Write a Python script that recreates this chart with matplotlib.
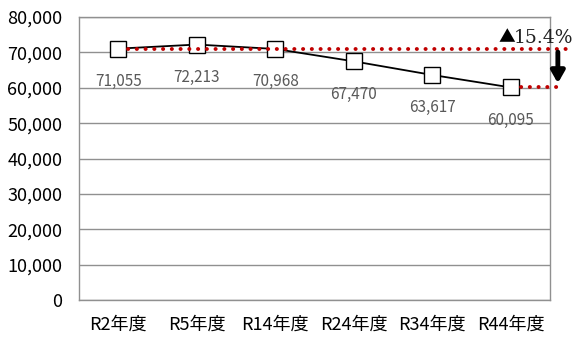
import matplotlib
matplotlib.use("Agg")
import matplotlib.pyplot as plt

plt.rcParams['font.family'] = ['Noto Sans CJK JP', 'DejaVu Sans']

# ------------------ data ------------------
years = ["R2年度", "R5年度", "R14年度", "R24年度", "R34年度", "R44年度"]
population = [71055, 72213, 70968, 67470, 63617, 60095]
change_mark = "▲"
change_value = "15.4%"

# ------------------ plot ------------------
fig = plt.figure(figsize=(5.74, 3.38), dpi=100)
ax = fig.add_axes([0.1376, 0.1124, 0.8206, 0.8373])

x = list(range(len(years)))
ax.plot(x, population, "-", color="black", lw=1.3, marker="s", ms=12,
        mfc="white", mec="black", mew=1.0, zorder=4)

# red dotted reference lines (go past the right edge)
dot = dict(color="#c00000", lw=2.8, linestyle=(0, (0.05, 2.2)),
           dash_capstyle="round", clip_on=False, zorder=5)
ax.plot([0.13, 5.7], [population[0], population[0]], **dot)
ax.plot([x[-1] + 0.13, 5.65], [population[-1], population[-1]], **dot)

# arrow showing the decrease
ax.annotate("", xy=(5.6, population[-1] + 400), xytext=(5.6, population[0] - 200),
            arrowprops=dict(arrowstyle="-|>,head_width=0.4,head_length=0.7",
                            color="black", lw=3.5),
            annotation_clip=False, zorder=6)
ax.text(5.8, population[0] + 1700, change_value, ha="right", va="baseline",
        fontsize=13.5, family=["DejaVu Serif"], color="#222222")
ax.annotate(change_mark, xy=(5.8, population[0] + 1700), xytext=(-42, 0),
            textcoords="offset points", ha="right", va="baseline",
            fontsize=12, color="black", annotation_clip=False)

# value labels under each point
for xi, v in zip(x, population):
    ax.text(xi, v - 9300, f"{v:,}", ha="center", va="center",
            fontsize=11, color="#595959")

ax.set_xlim(-0.5, 5.5)
ax.set_ylim(0, 80000)
ax.set_yticks(range(0, 80001, 10000))
ax.set_yticklabels([f"{t:,}" for t in range(0, 80001, 10000)], fontsize=13)
ax.set_xticks(x)
ax.set_xticklabels(years, fontsize=13)
ax.tick_params(axis="y", length=0, pad=12)
ax.tick_params(axis="x", length=0, pad=11)
ax.grid(axis="y", color="#909090", lw=1)
ax.set_axisbelow(True)
for s in ax.spines.values():
    s.set_color("#909090")
    s.set_linewidth(1)

fig.savefig("out.png", dpi=100)
